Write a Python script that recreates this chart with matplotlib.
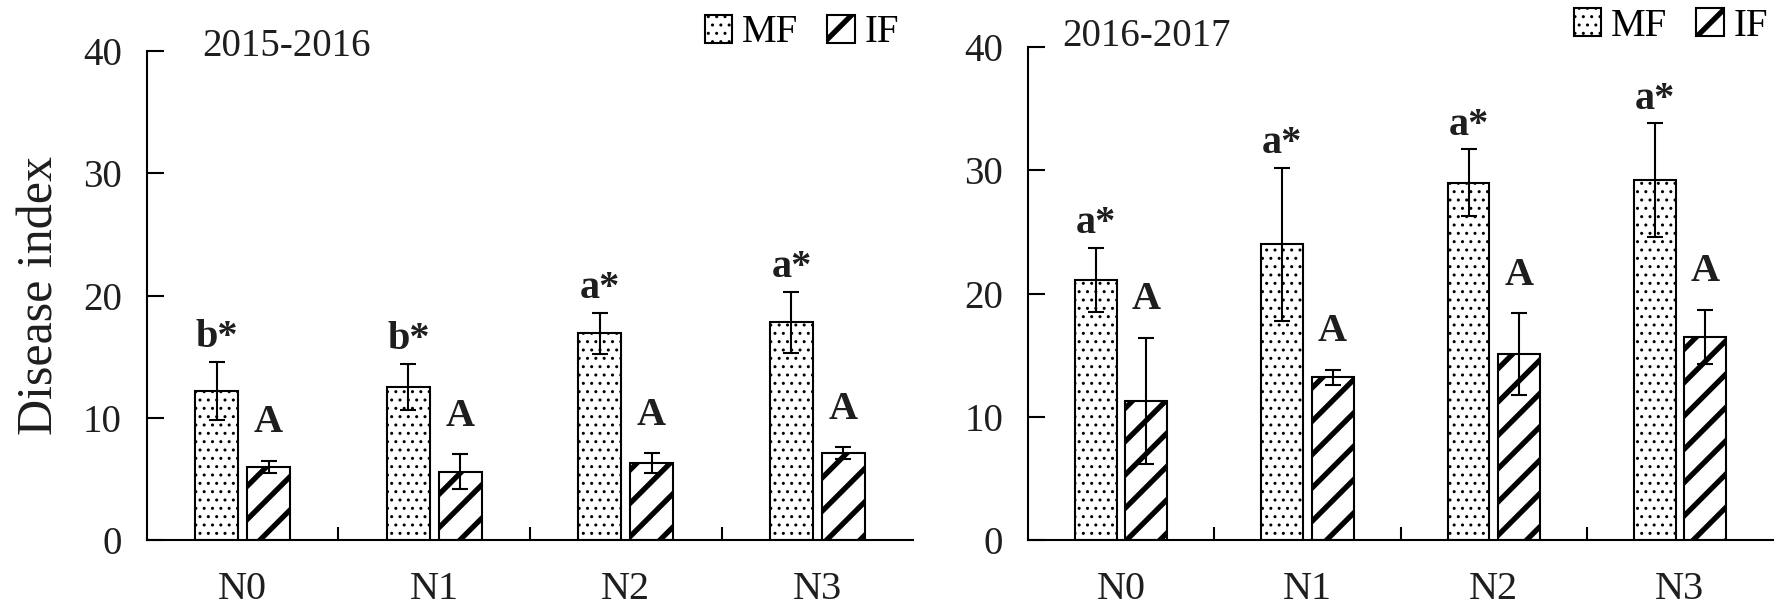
import numpy as np
import matplotlib
matplotlib.use("Agg")
import matplotlib.pyplot as plt
from matplotlib.patches import Patch

# data
groups = ["N0", "N1", "N2", "N3"]
years = ["2015-2016", "2016-2017"]

mf_1516 = [12.2, 12.5, 16.9, 17.8]
mf_1516_err = [2.4, 1.9, 1.7, 2.5]
if_1516 = [6.0, 5.6, 6.3, 7.1]
if_1516_err = [0.5, 1.4, 0.8, 0.5]
mf_1516_lab = ["b*", "b*", "a*", "a*"]
if_1516_lab = ["A", "A", "A", "A"]

mf_1617 = [21.1, 24.0, 29.0, 29.2]
mf_1617_err = [2.6, 6.2, 2.7, 4.6]
if_1617 = [11.3, 13.2, 15.1, 16.5]
if_1617_err = [5.1, 0.6, 3.3, 2.2]
mf_1617_lab = ["a*", "a*", "a*", "a*"]
if_1617_lab = ["A", "A", "A", "A"]

yticks = [0, 10, 20, 30, 40]

plt.rcParams["font.family"] = ["Liberation Serif", "DejaVu Serif"]
plt.rcParams["hatch.color"] = "black"
TXT = "#1e1e1e"
DOT_LW = 1.0
STRIPE_LW = 3.8

fig = plt.figure(figsize=(17.92, 6.08), dpi=100)
ax1 = fig.add_axes([0.0820, 0.1118, 0.5095 - 0.0820, 0.9161 - 0.1118])
ax2 = fig.add_axes([0.5737, 0.1118, 0.9894 - 0.5737, 0.9227 - 0.1118])

W = 0.225
OFF = 0.135


def set_hlw(patches, lw):
    for p in patches:
        if hasattr(p, "set_hatch_linewidth"):
            p.set_hatch_linewidth(lw)


def panel(ax, mf, mf_err, iff, if_err, mf_lab, if_lab, title, tx, ty, show_ylabel):
    x = np.arange(len(groups))
    plt.rcParams["hatch.linewidth"] = DOT_LW
    b1 = ax.bar(x - OFF, mf, W, color="white", edgecolor="black", linewidth=1.5,
                hatch="..", zorder=2)
    set_hlw(b1, DOT_LW)
    plt.rcParams["hatch.linewidth"] = STRIPE_LW
    b2 = ax.bar(x + OFF, iff, W, color="white", edgecolor="black", linewidth=1.5,
                hatch="/", zorder=2)
    set_hlw(b2, STRIPE_LW)
    ax.errorbar(x - OFF, mf, yerr=mf_err, fmt="none", ecolor="black",
                elinewidth=1.5, capsize=5.5, capthick=1.5, zorder=3)
    ax.errorbar(x + OFF, iff, yerr=if_err, fmt="none", ecolor="black",
                elinewidth=1.5, capsize=5.5, capthick=1.5, zorder=3)

    for i in range(len(groups)):
        ax.annotate(mf_lab[i], (x[i] - OFF, mf[i] + mf_err[i]),
                    xytext=(0, 4), textcoords="offset points",
                    ha="center", va="bottom", fontsize=29, fontweight="bold",
                    color=TXT)
        ax.annotate(if_lab[i], (x[i] + OFF, iff[i] + if_err[i]),
                    xytext=(0, 14), textcoords="offset points",
                    ha="center", va="bottom", fontsize=29, fontweight="bold",
                    color=TXT)

    ax.set_xlim(-0.5, 3.5)
    ax.set_ylim(0, 40)
    ax.set_yticks(yticks)
    ax.set_xticks(x)
    ax.set_xticklabels(groups)
    ax.set_xticks([0.5, 1.5, 2.5], minor=True)
    ax.tick_params(axis="x", which="major", length=0, pad=22, labelsize=29,
                   labelcolor=TXT)
    ax.tick_params(axis="x", which="minor", direction="in", length=9.5,
                   width=1.5)
    ax.tick_params(axis="y", direction="in", length=12, width=1.5, pad=18,
                   labelsize=28, labelcolor=TXT)
    for s in ["top", "right"]:
        ax.spines[s].set_visible(False)
    for s in ["left", "bottom"]:
        ax.spines[s].set_linewidth(1.5)
    ax.text(tx, ty, title, transform=fig.transFigure, fontsize=28,
            va="center", ha="left", color=TXT)
    if show_ylabel:
        ax.set_ylabel("Disease index", fontsize=36, color=TXT, labelpad=14)


panel(ax1, mf_1516, mf_1516_err, if_1516, if_1516_err, mf_1516_lab,
      if_1516_lab, years[0], 202 / 1792, 1 - 47 / 608, True)
panel(ax2, mf_1617, mf_1617_err, if_1617, if_1617_err, mf_1617_lab,
      if_1617_lab, years[1], 1062 / 1792, 1 - 37 / 608, False)

for bx, by in [(705 / 1792, 1 - 33 / 608), (1574 / 1792, 1 - 26 / 608)]:
    plt.rcParams["hatch.linewidth"] = DOT_LW
    h1 = Patch(facecolor="white", edgecolor="black", linewidth=1.5, hatch="..")
    plt.rcParams["hatch.linewidth"] = STRIPE_LW
    h2 = Patch(facecolor="white", edgecolor="black", linewidth=1.5, hatch="/")
    leg = fig.legend([h1, h2], ["MF", "IF"], loc="center left",
                     bbox_to_anchor=(bx, by), ncol=2, frameon=False,
                     fontsize=28, handlelength=0.7, handleheight=0.75,
                     handletextpad=0.25, columnspacing=0.75, borderpad=0,
                     borderaxespad=0)
    hp = leg.get_patches()
    set_hlw(hp[:1], DOT_LW)
    set_hlw(hp[1:], STRIPE_LW)

fig.savefig("out.png", dpi=100)
